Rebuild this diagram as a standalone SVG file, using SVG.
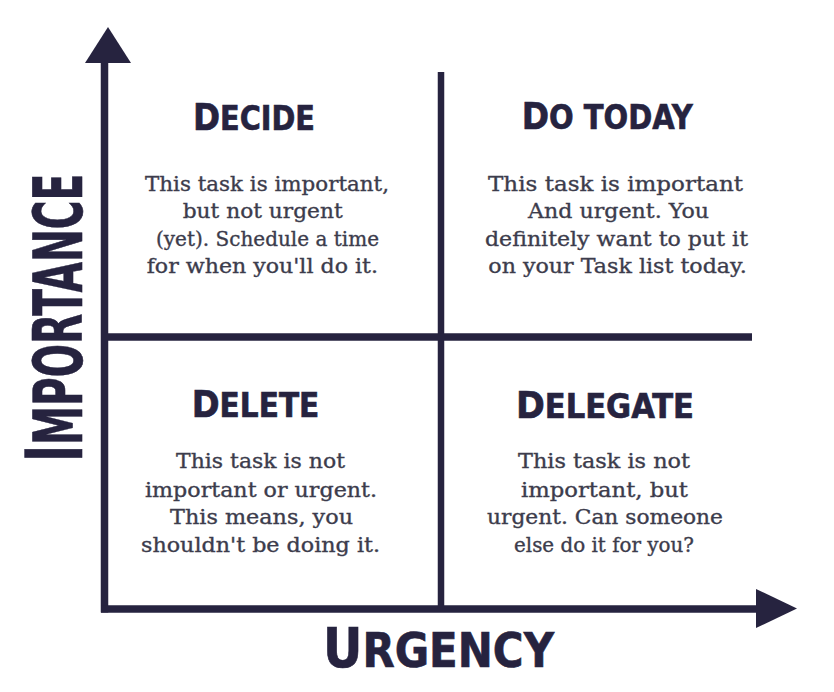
<svg xmlns="http://www.w3.org/2000/svg" width="834" height="692" viewBox="0 0 834 692">
<style>
.ax{stroke:#26233f;stroke-width:7.5;fill:none}
.dv{stroke:#26233f;stroke-width:6.5;fill:none}
.head{fill:#26233f}
.ttl{font-family:"Liberation Sans Narrow","DejaVu Sans Condensed","Liberation Sans",sans-serif;font-weight:bold;fill:#26233f;stroke:#26233f;stroke-width:0.6}
.body{font-family:"DejaVu Serif","Liberation Serif",serif;font-size:20px;fill:#3c3c4c;stroke:#3c3c4c;stroke-width:0.35}
</style>
<rect width="834" height="692" fill="#ffffff"/>
<g id="connectors">
<line class="ax" x1="104.5" y1="58" x2="104.5" y2="612.5"/>
<line class="ax" x1="101" y1="609" x2="760" y2="609"/>
<line class="dv" x1="441" y1="72" x2="441" y2="609"/>
<line class="ax" x1="108" y1="337" x2="752" y2="337"/>
<polygon class="head" points="85,63 131,63 108,27"/>
<polygon class="head" points="756,589 756,628 797,608.5"/>
</g>
<g id="axis-importance">
<text class="ttl" transform="translate(82,461.7) rotate(-90)" textLength="288" lengthAdjust="spacingAndGlyphs"><tspan font-size="78">I</tspan><tspan font-size="68.5">MPORTANCE</tspan></text>
</g>
<g id="axis-urgency">
<text class="ttl" x="323" y="667" textLength="231" lengthAdjust="spacingAndGlyphs"><tspan font-size="55">U</tspan><tspan font-size="47.5">RGENCY</tspan></text>
</g>
<g id="decide">
<text class="ttl" x="193" y="129.5" textLength="122" lengthAdjust="spacingAndGlyphs"><tspan font-size="37.5">D</tspan><tspan font-size="33">ECIDE</tspan></text>
<text class="body" x="145" y="190.7" textLength="244" lengthAdjust="spacingAndGlyphs">This task is important,</text>
<text class="body" x="182.7" y="218.2" textLength="160" lengthAdjust="spacingAndGlyphs">but not urgent</text>
<text class="body" x="156" y="245.7" textLength="223" lengthAdjust="spacingAndGlyphs">(yet). Schedule a time</text>
<text class="body" x="146.7" y="273.2" textLength="231.3" lengthAdjust="spacingAndGlyphs">for when you'll do it.</text>
</g>
<g id="do-today">
<text class="ttl" x="521.7" y="129.3" textLength="171" lengthAdjust="spacingAndGlyphs"><tspan font-size="37.5">D</tspan><tspan font-size="33">O TODAY</tspan></text>
<text class="body" x="488" y="190.7" textLength="255" lengthAdjust="spacingAndGlyphs">This task is important</text>
<text class="body" x="528" y="218.2" textLength="181" lengthAdjust="spacingAndGlyphs">And urgent. You</text>
<text class="body" x="485" y="245.7" textLength="263" lengthAdjust="spacingAndGlyphs">definitely want to put it</text>
<text class="body" x="488.3" y="273.2" textLength="258.4" lengthAdjust="spacingAndGlyphs">on your Task list today.</text>
</g>
<g id="delete">
<text class="ttl" x="191.7" y="417" textLength="127.6" lengthAdjust="spacingAndGlyphs"><tspan font-size="37.5">D</tspan><tspan font-size="33">ELETE</tspan></text>
<text class="body" x="176" y="468.3" textLength="169" lengthAdjust="spacingAndGlyphs">This task is not</text>
<text class="body" x="145" y="496.5" textLength="232" lengthAdjust="spacingAndGlyphs">important or urgent.</text>
<text class="body" x="170" y="524" textLength="183" lengthAdjust="spacingAndGlyphs">This means, you</text>
<text class="body" x="141" y="551.7" textLength="239" lengthAdjust="spacingAndGlyphs">shouldn't be doing it.</text>
</g>
<g id="delegate">
<text class="ttl" x="516" y="418" textLength="178" lengthAdjust="spacingAndGlyphs"><tspan font-size="37.5">D</tspan><tspan font-size="33">ELEGATE</tspan></text>
<text class="body" x="518" y="468.3" textLength="172" lengthAdjust="spacingAndGlyphs">This task is not</text>
<text class="body" x="521" y="496.5" textLength="167" lengthAdjust="spacingAndGlyphs">important, but</text>
<text class="body" x="487" y="524" textLength="236" lengthAdjust="spacingAndGlyphs">urgent. Can someone</text>
<text class="body" x="514" y="551.7" textLength="180" lengthAdjust="spacingAndGlyphs">else do it for you?</text>
</g>
</svg>
